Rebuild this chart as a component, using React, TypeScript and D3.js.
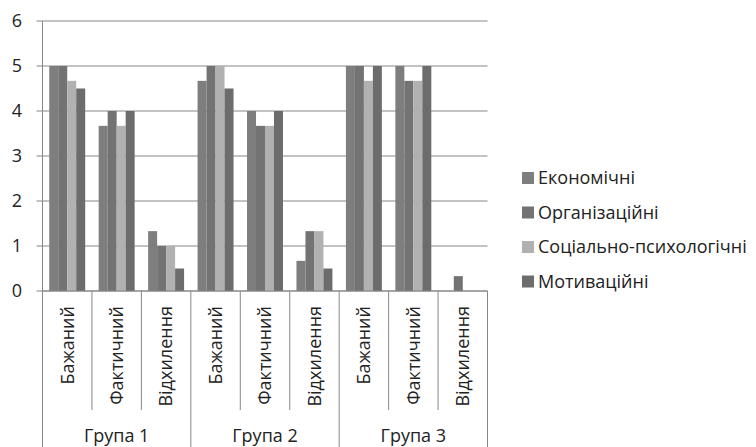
import * as d3 from "d3";

const groups = ["Група 1", "Група 2", "Група 3"];
const subCats = ["Бажаний", "Фактичний", "Відхилення"];
const seriesNames = ["Економічні", "Організаційні", "Соціально-психологічні", "Мотиваційні"];
const seriesColors = ["#7e7e7e", "#737373", "#b1b1b1", "#6c6c6c"];

// one value per category: group1 (Б, Ф, В), group2, group3
const economic = [5, 3.67, 1.33, 4.67, 4, 0.67, 5, 5, 0];
const organiz = [5, 4, 1, 5, 3.67, 1.33, 5, 4.67, 0.33];
const social = [4.67, 3.67, 1, 5, 3.67, 1.33, 4.67, 4.67, 0];
const motiv = [4.5, 4, 0.5, 4.5, 4, 0.5, 5, 5, 0];
const values = [economic, organiz, social, motiv];
const yTicks = [0, 1, 2, 3, 4, 5, 6];

const W = 756;
const H = 447;
const m = { left: 42.5, right: 487.5, top: 21, bottom: 291 };
const font = "'Open Sans', 'Noto Sans', sans-serif";
const fs = 18;

export default function App() {
	const cats = groups.flatMap((g) => subCats.map((s) => `${g}|${s}`));
	const x = d3.scaleBand().domain(cats).range([m.left, m.right]);
	const y = d3.scaleLinear().domain([0, 6]).range([m.bottom, m.top]);
	const bw = x.bandwidth();
	// gap width 150% -> 0.75 bar on each side
	const inner = d3
		.scaleBand<number>()
		.domain(d3.range(seriesNames.length))
		.range([0, bw])
		.paddingInner(0)
		.paddingOuter(0.75);
	const grid = "#878787";

	return (
		<svg width={W} height={H} style={{ position: "absolute", left: 0, top: 0, background: "#fff" }}>
			{yTicks.map((t) => (
				<g key={t}>
					<line x1={m.left} x2={m.right} y1={y(t)} y2={y(t)} stroke={grid} />
					<line x1={m.left - 6} x2={m.left} y1={y(t)} y2={y(t)} stroke={grid} />
					<text x={22} y={y(t)} dy="0.35em" textAnchor="end" fontFamily={font} fontSize={fs} fill="#222">
						{t}
					</text>
				</g>
			))}
			{values.map((vals, si) =>
				vals.map((v, ci) =>
					v > 0 ? (
						<rect
							key={`${si}-${ci}`}
							x={(x(cats[ci]) ?? 0) + (inner(si) ?? 0)}
							y={y(v)}
							width={inner.bandwidth()}
							height={y(0) - y(v)}
							fill={seriesColors[si]}
						/>
					) : null
				)
			)}
			<line x1={m.left} x2={m.left} y1={m.top} y2={H} stroke={grid} />
			{cats.map((c, i) => {
				const x0 = x(c) ?? 0;
				const groupEnd = (i + 1) % subCats.length === 0;
				return (
					<g key={c}>
						<line
							x1={x0 + bw}
							x2={x0 + bw}
							y1={m.bottom}
							y2={groupEnd ? H : 410}
							stroke={grid}
						/>
						<text
							transform={`translate(${x0 + bw / 2},306) rotate(-90)`}
							dy="0.35em"
							textAnchor="end"
							fontFamily={font}
							fontSize={fs}
							fill="#222"
						>
							{c.split("|")[1]}
						</text>
					</g>
				);
			})}
			{groups.map((g) => {
				const x0 = x(`${g}|${subCats[0]}`) ?? 0;
				return (
					<text
						key={g}
						x={x0 + (bw * subCats.length) / 2}
						y={442}
						textAnchor="middle"
						fontFamily={font}
						fontSize={fs}
						fill="#222"
					>
						{g}
					</text>
				);
			})}
			<line x1={m.left} x2={m.right} y1={m.bottom} y2={m.bottom} stroke={grid} />
			{seriesNames.map((s, i) => (
				<g key={s} transform={`translate(522,${178 + i * 34.5})`}>
					<rect x={0} y={-6} width={12} height={12} fill={seriesColors[i]} />
					<text x={16} dy="0.35em" fontFamily={font} fontSize={fs} fill="#222">
						{s}
					</text>
				</g>
			))}
		</svg>
	);
}
